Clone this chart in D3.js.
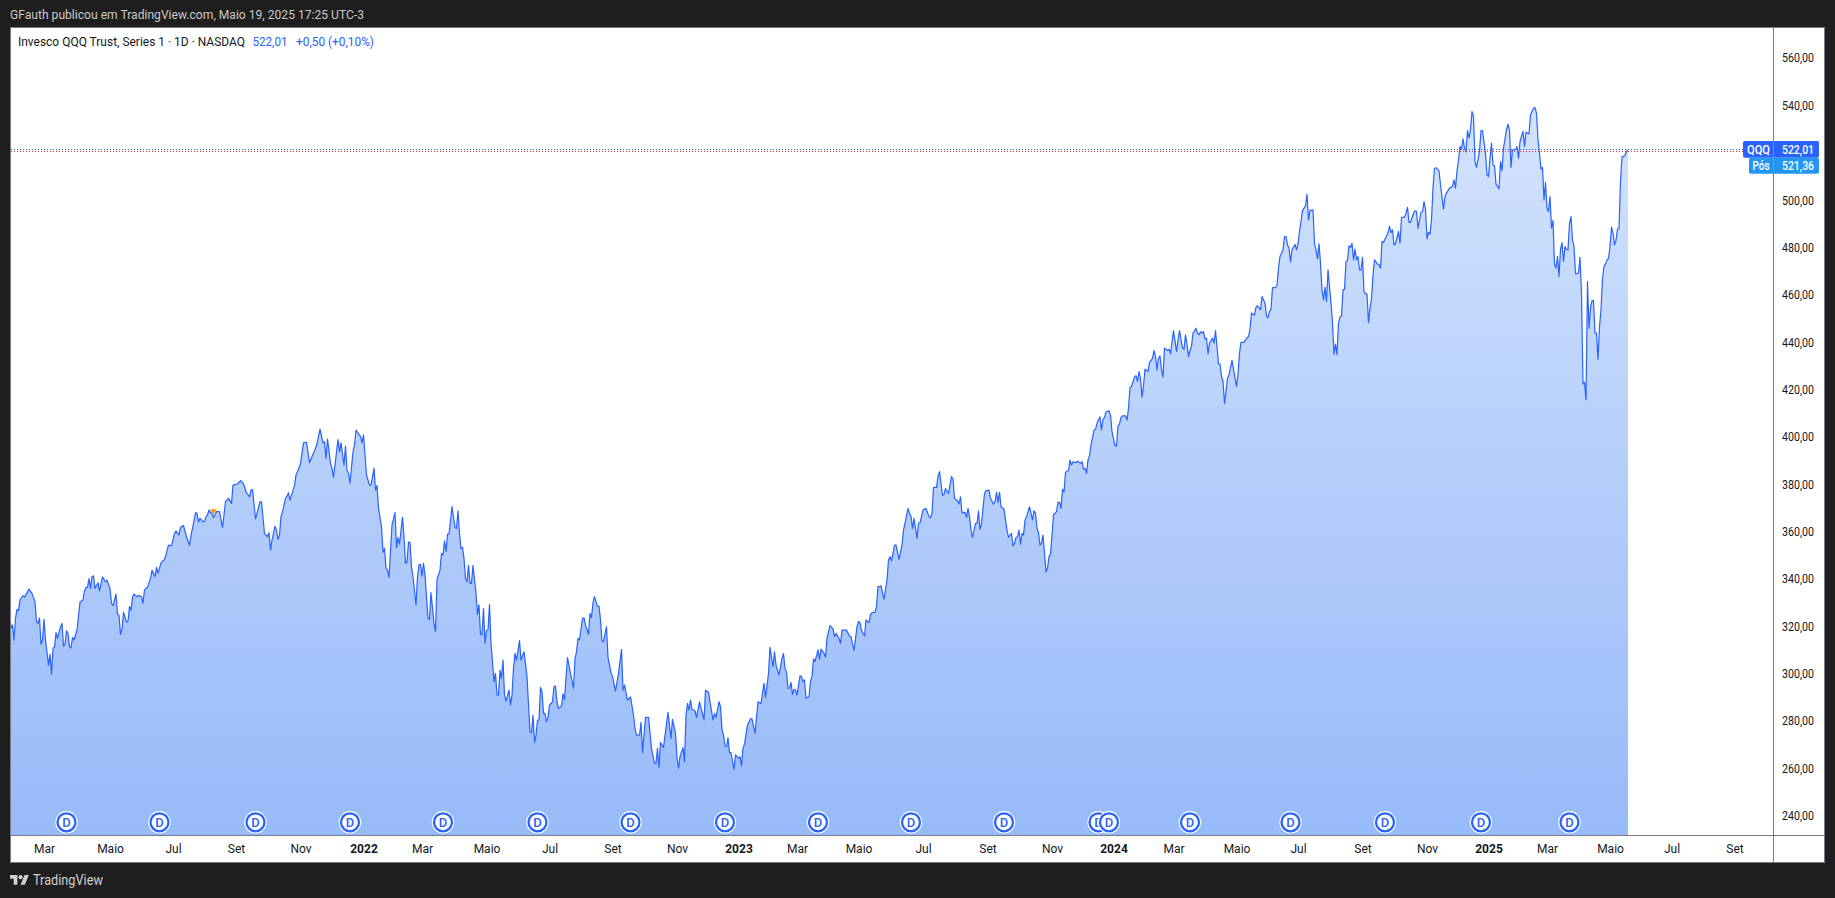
<!DOCTYPE html>
<html><head><meta charset="utf-8">
<script src="https://cdn.jsdelivr.net/npm/d3@7/dist/d3.min.js"></script>
<style>html,body{margin:0;padding:0;background:#1e1e1e;overflow:hidden}svg{display:block}text{font-family:Roboto,"Noto Sans",sans-serif}</style>
</head><body><svg id="c" width="1835" height="898"></svg>
<script>
// daily bar number (trading days since the left edge) and closing price
const closes2021 = [[-1,328.8],[0,319.9],[1,321.3],[2,315.0],[3,324.1],[4,327.9],[5,327.4],[6,331.9],[8,333.7],[9,333.1],[12,336.5],[14,334.7],[16,331.2],[17,322.7],[18,322.0],[19,324.3],[20,313.3],[21,315.0],[22,323.7],[23,315.0],[25,304.4],[26,308.9],[27,300.5],[28,311.6],[29,311.9],[30,318.1],[31,315.7],[33,320.6],[34,322.0],[35,312.4],[36,313.3],[37,318.9],[38,317.8],[39,312.2],[40,311.6],[41,316.1],[42,315.0],[44,319.2],[46,331.0],[48,331.9],[49,335.8],[50,337.2],[51,337.2],[52,340.9],[53,336.8],[54,341.7],[55,342.1],[56,336.8],[58,339.2],[59,335.7],[61,341.7],[63,339.5],[64,340.3],[66,336.8],[67,330.5],[68,329.5],[70,334.4],[71,326.0],[72,325.5],[73,317.4],[74,319.5],[75,326.7],[77,322.6],[78,322.9],[79,329.1],[80,327.6],[81,333.0],[82,334.4],[84,333.3],[85,333.8],[87,333.3],[88,330.5],[89,336.1],[90,336.9],[91,337.2],[93,341.0],[94,344.5],[96,341.7],[97,345.7],[98,343.1],[100,347.6],[102,348.8],[103,350.2],[105,355.1],[107,354.8],[109,360.0],[110,361.0],[112,359.3],[113,362.6],[115,363.3],[117,358.6],[119,355.0],[120,359.3],[121,362.1],[123,368.8],[124,368.5],[125,364.8],[126,366.4],[128,365.0],[129,365.0],[130,367.1],[131,367.8],[132,369.9],[133,368.8],[134,368.5],[135,366.6],[137,369.2],[139,369.2],[141,362.6],[142,367.8],[143,373.4],[145,374.8],[147,372.7],[148,380.4],[151,380.9],[153,382.3],[155,380.9],[157,377.2],[159,375.5],[160,378.3],[161,378.6],[163,366.2],[164,368.5],[166,373.4],[167,373.4],[169,360.0],[171,358.6],[172,360.3],[173,353.0],[174,357.2],[176,363.1],[177,361.4],[178,357.5],[179,359.3],[180,367.1],[181,369.2],[183,374.8],[184,375.8],[185,377.2],[186,374.1],[188,378.3],[189,380.2],[190,384.7],[192,387.5],[193,389.6],[195,398.3],[197,398.6],[199,389.9],[202,394.5],[203,395.9],[204,398.0],[206,404.1],[208,398.3],[209,398.7],[210,391.7],[211,399.9],[213,389.6],[214,387.5],[215,383.7],[218,399.7],[219,394.5],[220,398.3],[222,388.9],[223,396.9],[224,386.8],[225,385.4],[226,381.2],[228,394.5],[229,397.3],[230,403.7],[233,400.9],[234,398.3]];
const closes2022 = [[235,401.7],[237,384.7],[239,380.4],[240,380.4],[242,387.5],[243,378.3],[244,380.2],[245,370.6],[247,362.8],[248,352.0],[249,353.7],[250,345.2],[251,344.5],[252,341.4],[254,363.5],[256,368.8],[257,354.0],[258,358.3],[259,355.5],[261,366.8],[262,358.6],[263,347.4],[264,347.8],[265,356.4],[266,356.2],[267,345.9],[268,341.7],[270,329.8],[271,341.7],[272,346.7],[273,346.9],[274,342.0],[275,347.4],[276,342.4],[278,324.1],[279,323.7],[280,335.0],[282,322.0],[283,318.6],[284,340.6],[286,344.5],[287,351.6],[288,350.9],[289,356.9],[290,352.3],[291,359.7],[292,359.7],[294,371.3],[296,362.6],[297,362.1],[298,369.6],[299,360.0],[300,353.7],[301,354.1],[302,349.5],[303,341.0],[304,339.6],[305,346.5],[306,338.9],[307,338.9],[308,346.5],[310,334.7],[311,325.8],[312,329.8],[313,317.4],[314,317.1],[315,328.3],[316,313.6],[317,318.9],[318,319.2],[319,330.0],[320,313.6],[322,297.4],[323,300.9],[324,291.7],[325,291.7],[326,302.3],[327,298.8],[328,306.5],[329,291.7],[330,289.2],[332,293.8],[333,287.5],[334,291.7],[335,303.0],[336,309.3],[337,306.5],[339,314.7],[340,306.5],[342,310.0],[344,299.5],[346,276.2],[347,275.8],[348,283.2],[349,271.7],[350,274.8],[351,281.2],[352,281.2],[353,295.0],[354,293.1],[355,284.0],[356,284.0],[357,280.5],[358,282.2],[359,287.5],[361,288.9],[362,295.3],[363,295.5],[364,288.9],[365,286.1],[367,287.1],[368,292.2],[369,289.9],[370,298.8],[371,307.6],[373,300.9],[375,294.6],[376,307.2],[377,310.0],[378,315.7],[379,315.0],[381,324.1],[382,324.4],[383,321.3],[385,317.4],[386,326.2],[387,324.5],[388,330.9],[389,333.3],[391,329.1],[392,329.3],[393,323.4],[394,314.5],[395,314.3],[397,320.6],[398,307.6],[399,304.4],[400,301.2],[401,299.5],[403,293.4],[405,300.9],[407,311.0],[408,293.8],[409,295.9],[411,289.6],[413,291.0],[415,283.3],[416,277.7],[417,274.8],[419,274.8],[420,280.2],[421,267.5],[423,282.3],[425,282.3],[427,269.2],[429,262.9],[430,262.9],[431,269.2],[432,261.2],[433,271.7],[435,269.6],[438,284.4],[440,273.4],[441,281.5],[443,275.6],[444,265.4],[445,260.8],[446,265.7],[448,269.5],[449,263.6],[450,283.3],[451,288.2],[452,285.4],[453,289.6],[454,285.7],[456,285.1],[457,282.3],[459,288.9],[462,281.2],[463,293.8],[465,292.9],[468,281.2],[469,284.0],[470,282.3],[472,288.9],[473,286.8],[474,277.2],[475,274.8],[476,270.2],[477,269.9],[478,273.7],[479,267.4],[480,267.4],[482,260.3],[483,266.5]];
const closes2023 = [[485,265.0],[486,265.7],[487,261.9],[488,269.2],[489,271.1],[491,279.1],[493,281.7],[494,281.7],[496,275.6],[498,288.9],[500,288.2],[502,296.7],[503,290.8],[505,300.9],[506,311.9],[508,303.7],[509,310.0],[510,304.4],[512,300.2],[514,307.2],[515,309.3],[516,303.0],[517,301.6],[518,294.6],[519,294.6],[520,297.1],[521,292.0],[522,294.1],[523,293.9],[524,291.7],[526,299.9],[527,299.5],[528,297.4],[529,298.1],[530,290.4],[532,291.1],[533,297.8],[534,299.5],[535,307.0],[536,305.9],[538,310.8],[539,306.8],[540,311.1],[542,309.4],[543,307.7],[544,315.7],[546,321.1],[548,319.7],[549,316.4],[550,317.8],[552,315.7],[553,313.6],[554,319.2],[557,319.2],[559,316.7],[560,316.4],[562,310.5],[564,320.6],[565,322.8],[566,322.3],[567,319.0],[569,316.7],[570,323.5],[572,322.3],[573,325.6],[574,326.6],[576,326.6],[577,329.1],[578,337.5],[579,337.5],[580,337.9],[582,332.2],[584,340.3],[585,348.8],[586,350.2],[587,348.3],[589,355.0],[590,355.2],[592,349.0],[594,355.1],[595,361.4],[596,364.3],[598,370.6],[599,368.5],[600,367.3],[601,362.1],[602,366.4],[604,357.9],[605,364.3],[606,364.5],[608,369.9],[610,370.6],[612,367.1],[613,366.6],[614,368.5],[615,379.5],[617,379.5],[618,384.0],[619,386.1],[620,381.2],[621,376.2],[622,376.5],[623,379.0],[625,376.9],[627,384.0],[628,383.0],[629,374.8],[631,373.8],[632,372.4],[633,375.5],[634,368.8],[636,368.9],[637,366.8],[638,370.6],[639,367.1],[640,361.4],[641,358.3],[643,364.3],[644,364.3],[645,369.5],[646,361.7],[647,364.3],[649,376.9],[650,378.1],[652,378.3],[653,374.8],[655,372.4],[656,373.4],[657,377.4],[658,373.1],[659,377.5],[660,371.3],[662,370.3],[664,361.4],[665,358.3],[667,360.0],[668,354.7],[669,355.8],[670,358.3],[671,358.6],[672,361.4],[673,355.5],[674,360.0],[675,359.3],[676,365.7],[677,367.1],[679,371.3],[681,365.7],[682,369.6],[683,368.5],[684,362.1],[685,360.3],[686,355.1],[687,355.8],[688,359.3],[689,351.6],[690,343.8],[691,345.2],[692,350.2],[693,351.3],[694,359.3],[695,367.8],[697,369.2],[698,373.1],[699,373.1],[700,370.6],[701,378.6],[702,377.6],[703,385.7],[704,386.4],[705,386.5],[706,391.0],[707,388.9],[708,390.3],[710,389.9],[711,390.6],[713,389.6],[714,390.3],[715,387.2],[716,387.5],[717,385.4],[718,391.0],[719,392.7],[720,397.3],[722,403.7],[723,404.0],[724,406.5],[726,409.3],[727,403.7],[728,408.2],[729,408.9],[730,411.4],[732,411.8],[733,410.0],[734,403.0]];
const closes2024 = [[736,397.1],[737,396.9],[738,405.5],[739,406.2],[740,409.0],[741,409.7],[743,409.7],[744,407.9],[745,412.8],[746,421.6],[747,422.1],[749,426.0],[750,426.7],[751,424.2],[752,428.4],[753,425.6],[754,417.6],[755,422.4],[756,429.4],[758,428.4],[759,432.2],[761,434.0],[762,437.3],[763,434.7],[764,429.1],[765,434.0],[766,435.0],[767,429.1],[768,426.0],[769,438.3],[771,437.3],[772,437.8],[773,435.9],[775,445.7],[777,436.9],[779,445.7],[781,438.3],[782,437.8],[783,443.9],[784,439.7],[785,434.7],[786,437.3],[787,439.0],[788,444.6],[790,446.7],[791,444.6],[792,443.9],[793,445.2],[794,444.6],[795,445.3],[796,442.1],[797,442.5],[798,435.9],[799,440.4],[801,442.5],[802,440.4],[803,445.7],[804,439.0],[805,431.6],[806,431.6],[807,426.3],[808,424.2],[809,415.0],[810,420.0],[811,425.6],[812,427.0],[814,433.1],[817,422.1],[818,427.3],[819,436.2],[820,440.7],[822,440.7],[823,441.8],[825,443.2],[826,446.3],[827,453.1],[829,452.2],[830,455.6],[831,456.2],[833,454.5],[834,460.1],[836,457.3],[837,451.9],[838,451.1],[839,453.8],[840,454.8],[841,463.9],[843,463.8],[844,465.0],[845,472.1],[846,477.0],[848,479.8],[849,485.4],[850,485.4],[851,481.9],[852,480.5],[853,474.6],[854,479.8],[856,482.1],[857,479.8],[858,482.4],[859,487.6],[860,491.8],[861,496.4],[863,498.4],[864,503.3],[865,492.5],[866,496.4],[868,496.7],[869,482.4],[870,479.8],[871,476.0],[872,482.4],[873,474.2],[874,462.9],[875,458.7],[876,464.0],[877,458.0],[878,471.4],[880,457.3],[881,448.8],[882,435.7],[883,440.0],[884,435.5],[885,448.8],[886,451.4],[887,451.9],[888,462.9],[889,463.2],[890,474.9],[891,475.3],[892,481.5],[893,480.9],[894,482.6],[895,475.6],[896,480.1],[897,475.6],[898,477.0],[899,471.4],[900,471.4],[901,476.6],[902,462.2],[903,461.2],[904,461.2],[905,449.1],[906,455.2],[907,459.0],[908,469.3],[909,475.6],[911,473.8],[912,473.5],[913,472.1],[914,483.3],[915,482.9],[917,485.7],[918,486.9],[919,489.7],[920,487.1],[921,488.3],[922,481.9],[923,482.4],[925,487.6],[926,482.6],[927,493.5],[929,493.6],[930,495.3],[931,497.8],[932,491.4],[933,491.4],[935,495.3],[936,496.3],[937,496.0],[938,489.0],[939,492.2],[940,495.7],[941,496.0],[942,500.2],[943,497.0],[944,484.5],[945,487.3],[946,486.4],[947,492.5],[948,505.9],[949,514.3],[950,514.5],[952,513.2],[953,507.3],[955,497.0],[956,502.3],[957,503.8],[959,505.9],[961,506.6],[962,509.4],[963,505.9],[964,513.2],[965,517.6],[966,523.5],[967,522.3],[968,526.7],[969,522.8],[970,521.2],[971,530.2],[972,527.0],[973,530.5],[974,538.2],[975,536.1],[976,517.1],[977,514.7],[979,521.4],[980,530.2],[981,530.2],[983,520.6],[984,511.5]];
const closes2025 = [[985,510.8],[986,518.5],[987,524.9],[988,515.7],[989,515.4],[990,507.6],[992,505.6],[993,517.1],[994,513.3],[995,522.8],[997,530.5],[998,532.9],[999,530.2],[1000,514.7],[1001,522.1],[1003,522.1],[1004,523.5],[1005,518.5],[1006,525.6],[1008,529.8],[1009,523.5],[1010,529.5],[1012,528.8],[1013,536.8],[1015,539.6],[1016,539.9],[1017,537.5],[1018,526.3],[1019,520.6],[1020,513.9],[1021,514.7],[1022,500.9],[1023,508.3],[1024,497.4],[1025,496.0],[1026,502.3],[1027,489.0],[1028,492.2],[1029,473.5],[1030,472.1],[1031,477.0],[1032,468.6],[1033,480.1],[1034,482.9],[1035,474.9],[1036,481.2],[1037,480.1],[1038,479.8],[1039,491.1],[1040,493.9],[1041,484.0],[1042,481.2],[1043,469.7],[1045,470.0],[1046,476.6],[1047,461.5],[1048,423.1],[1049,423.8],[1050,416.5],[1051,466.4],[1052,446.7],[1053,455.2],[1054,458.4],[1055,458.4],[1056,444.6],[1057,444.6],[1058,433.6],[1059,447.4],[1060,454.5],[1061,467.8],[1062,472.8],[1063,473.9],[1064,475.6],[1065,476.2],[1066,481.2],[1067,489.4],[1068,486.9],[1069,481.9],[1070,483.8],[1071,488.5],[1072,488.8],[1073,508.7],[1074,519.0],[1076,519.7],[1077,521.5],[1078,522.01]];
const closes = [...closes2021, ...closes2022, ...closes2023, ...closes2024, ...closes2025];

const priceTicks = [560,540,500,480,460,440,420,400,380,360,340,320,300,280,260,240];
const timeTickBars = [22,66,108,150,193,235,274,317,359,401,444,485,524,565,608,651,694,735,775,817,858,901,944,985,1024,1066,1107,1149];
const timeTickLabels = ["Mar","Maio","Jul","Set","Nov","2022","Mar","Maio","Jul","Set","Nov","2023","Mar","Maio","Jul","Set","Nov","2024","Mar","Maio","Jul","Set","Nov","2025","Mar","Maio","Jul","Set"];
const yearLabels = ["2022","2023","2024","2025"];
const dividendBars = [37,99,163,226,288,351,413,476,538,600,662,725,732,786,853,916,980,1039];
const splitBar = 135, splitPrice = 369.6;
const lastPrice = 522.01, positionPrice = 521.36;
const headerText = "GFauth publicou em TradingView.com, Maio 19, 2025 17:25 UTC-3";
const titleText = "Invesco QQQ Trust, Series 1 · 1D · NASDAQ";
const valueText = "522,01", changeText = "+0,50 (+0,10%)";

const fmt = v => v.toFixed(2).replace(".", ",");
const frame = {l:10.5, t:27.5, r:1824.5, b:862.5, axisX:1773.5, axisY:835.5};
const x = d3.scaleLinear().domain([0,1078]).range([11,1628]);
const y = d3.scaleLinear().domain([240,560]).range([817.5,60.06]);
const svg = d3.select("#c");
const BLUE = "#2962ff", BORDER = "#787b86";

svg.append("rect").attr("width",1835).attr("height",898).attr("fill","#1e1e1e");
svg.append("rect").attr("x",frame.l).attr("y",frame.t).attr("width",frame.r-frame.l).attr("height",frame.b-frame.t).attr("fill","#fff");

const defs = svg.append("defs");
const gr = defs.append("linearGradient").attr("id","fillGrad").attr("gradientUnits","userSpaceOnUse")
  .attr("x1",0).attr("x2",0).attr("y1",y(d3.max(closes,d=>d[1]))).attr("y2",frame.axisY);
gr.append("stop").attr("offset",0).attr("stop-color","#d3e3fc");
gr.append("stop").attr("offset",1).attr("stop-color","#97baf9");
defs.append("clipPath").attr("id","plot").append("rect").attr("x",frame.l+.5).attr("y",frame.t).attr("width",frame.axisX-frame.l-.5).attr("height",frame.axisY-frame.t);

const plot = svg.append("g").attr("clip-path","url(#plot)");
plot.append("path").datum(closes).attr("fill","url(#fillGrad)")
  .attr("d",d3.area().x(d=>x(d[0])).y0(frame.axisY).y1(d=>y(d[1])));
plot.append("path").datum(closes).attr("fill","none").attr("stroke",BLUE).attr("stroke-width",1.2).attr("stroke-linejoin","round")
  .attr("d",d3.line().x(d=>x(d[0])).y(d=>y(d[1])));

// split marker
plot.append("path").datum(splitBar).attr("fill","#ff9800")
  .attr("d",d=>d3.line()([[x(d)-3.5,y(splitPrice)-1.5],[x(d)+3.5,y(splitPrice)-1.5],[x(d),y(splitPrice)+3.5]])+"Z");

// price lines
[[lastPrice,BLUE],[positionPrice,"#f23645"]].forEach(([p,c])=>{
  svg.append("line").attr("x1",frame.l+.5).attr("x2",frame.axisX).attr("y1",Math.floor(y(p))+.5).attr("y2",Math.floor(y(p))+.5)
    .attr("stroke",c).attr("stroke-width",1).attr("stroke-dasharray","1 2");
});

// dividend badges
const badge = plot.selectAll("g.d").data(dividendBars).join("g").attr("class","d")
  .attr("transform",d=>`translate(${x(d)},822.3)`);
badge.append("circle").attr("r",11.2).attr("fill","#fff");
badge.append("circle").attr("r",9).attr("fill","#fff").attr("stroke",BLUE).attr("stroke-width",2.3);
badge.append("text").text("D").attr("text-anchor","middle").attr("y",4.6).attr("font-size",13).attr("font-weight",500).attr("fill",BLUE);

// frame
svg.append("rect").attr("x",frame.l).attr("y",frame.t).attr("width",frame.r-frame.l).attr("height",frame.b-frame.t).attr("fill","none").attr("stroke",BORDER);
svg.append("line").attr("x1",frame.axisX).attr("x2",frame.axisX).attr("y1",frame.t).attr("y2",frame.b).attr("stroke",BORDER);
svg.append("line").attr("x1",frame.l).attr("x2",frame.r).attr("y1",frame.axisY).attr("y2",frame.axisY).attr("stroke",BORDER);

// axes
const yAxis = d3.axisRight(y).tickValues(priceTicks).tickFormat(fmt).tickSize(0).tickPadding(0);
const yG = svg.append("g").attr("transform",`translate(${frame.axisX+24.5},0)`).call(yAxis);
yG.select(".domain").remove();
yG.selectAll("text").attr("x",0).attr("dy","0.16em").attr("text-anchor","middle").attr("fill","#131722").attr("font-size",12)
  .attr("textLength",32).attr("lengthAdjust","spacingAndGlyphs");

const xAxis = d3.axisBottom(x).tickValues(timeTickBars).tickFormat((d,i)=>timeTickLabels[i]).tickSize(0).tickPadding(0);
const xG = svg.append("g").attr("transform","translate(0,848.5)").call(xAxis);
xG.select(".domain").remove();
xG.selectAll("text").attr("y",0).attr("dy","0.36em").attr("fill","#131722").each(function(){
    const s=d3.select(this), isYear=yearLabels.includes(s.text());
    s.attr("font-weight",isYear?700:400).attr("font-size",12);
  });

// price labels
function lab(xa,w,ya,h,c,rL,rR){
  const p=d3.path();
  p.moveTo(xa+rL,ya);p.lineTo(xa+w-rR,ya);p.arcTo(xa+w,ya,xa+w,ya+rR,rR);p.lineTo(xa+w,ya+h-rR);p.arcTo(xa+w,ya+h,xa+w-rR,ya+h,rR);
  p.lineTo(xa+rL,ya+h);p.arcTo(xa,ya+h,xa,ya+h-rL,rL);p.lineTo(xa,ya+rL);p.arcTo(xa,ya,xa+rL,ya,rL);p.closePath();
  svg.append("path").attr("d",p.toString()).attr("fill",c);
}
function ltx(t,cx,cy,w){svg.append("text").text(t).attr("x",cx).attr("y",cy+4.2).attr("text-anchor","middle").attr("fill","#fff").attr("font-size",12).attr("font-weight",500).attr("textLength",w).attr("lengthAdjust","spacingAndGlyphs");}
lab(1743,30.5,141,16.7,BLUE,2,0); lab(1773.5,45.5,141,16.7,BLUE,0,2);
lab(1749,24.5,157.7,16,"#2196f3",2,0); lab(1773.5,45.5,157.7,16,"#2196f3",0,2);
svg.append("line").attr("x1",frame.axisX).attr("x2",frame.axisX).attr("y1",141).attr("y2",173.7).attr("stroke","#78a0ff").attr("stroke-opacity",.6);
ltx("QQQ",1758.5,149.3,23); ltx(fmt(lastPrice),1798,149.3,32);
ltx("Pós",1761,165.7,17); ltx(fmt(positionPrice),1798,165.7,32);

// header and legend
function tx(t,xa,ya,w,c,fs,fw){return svg.append("text").text(t).attr("x",xa).attr("y",ya).attr("fill",c).attr("font-size",fs).attr("font-weight",fw||400).attr("textLength",w).attr("lengthAdjust","spacingAndGlyphs");}
tx(headerText,10,19,354,"#c9c9c9",12.5);
tx(titleText,18,46,227,"#131722",12.5);
tx(valueText,252.5,46,35,BLUE,12.5);
tx(changeText,296,46,78,BLUE,12.5);

// logo
const logo = svg.append("g").attr("transform","translate(10,873) scale(0.53)").attr("fill","#d0d0d0");
logo.append("path").attr("d","M14 22H7V11H0V4h14v18zM28 22h-8l7.5-18h8L28 22z");
logo.append("circle").attr("cx",20).attr("cy",8).attr("r",4);
tx("TradingView",33,885,70,"#d0d0d0",14.5);
</script></body></html>
